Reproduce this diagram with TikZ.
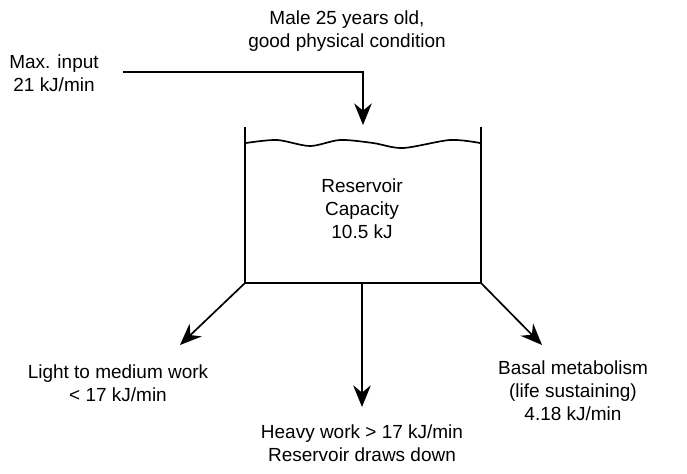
\documentclass[tikz,border=0pt]{standalone}
\usepackage{fontspec}
\setmainfont{Liberation Sans}
\usepackage{tikz}
\usetikzlibrary{arrows.meta}
\usetikzlibrary{calc}

\begin{document}
\begin{tikzpicture}[x=0.025cm,y=-0.025cm,
		lbl/.style={align=center,inner sep=0pt,font=\fontsize{13.5pt}{16.4pt}\selectfont},
		flow/.style={line width=1.2pt,-{Stealth[length=5.4mm,width=4.4mm,inset=1.8mm]}},
		wall/.style={line width=2pt}]
	\useasboundingbox (0,0) rectangle (687,474);
	% labels
	\node[lbl] (male) at (347,31) {Male 25 years old,\\good physical condition};
	\node[lbl] (maxin) at (54,73) {Max. input\\21 kJ/min};
	\node[lbl] (res) at (362,209) {Reservoir\\Capacity\\10.5 kJ};
	\node[lbl] (light) at (118,383) {Light to medium work\\< 17 kJ/min};
	\node[lbl] (heavy) at (362,443) {Heavy work > 17 kJ/min\\Reservoir draws down};
	\node[lbl] (basal) at (573,391) {Basal metabolism\\(life sustaining)\\4.18 kJ/min};
	% reservoir
	\coordinate (tl) at (245,127);
	\coordinate (tr) at (481,127);
	\coordinate (bl) at (245,283);
	\coordinate (br) at (481,283);
	\coordinate (bm) at (362,283);
	\draw[wall] (tl) -- (bl) -- (br) -- (tr);
	\draw[line width=1.2pt] plot[smooth] coordinates {(246,143) (277,140) (310,146) (340,140) (373,143) (403,148) (450,140) (480,143)};
	% in and out
	\coordinate (inp) at (123,72);
	\coordinate (top) at (363,125);
	\draw[flow] (inp) -| (top);
	\coordinate (lout) at (180,345);
	\coordinate (mout) at (362,407);
	\coordinate (rout) at (542,345);
	\draw[flow] (bl) -- (lout);
	\draw[flow] (bm) -- (mout);
	\draw[flow] (br) -- (rout);
\end{tikzpicture}
\end{document}
